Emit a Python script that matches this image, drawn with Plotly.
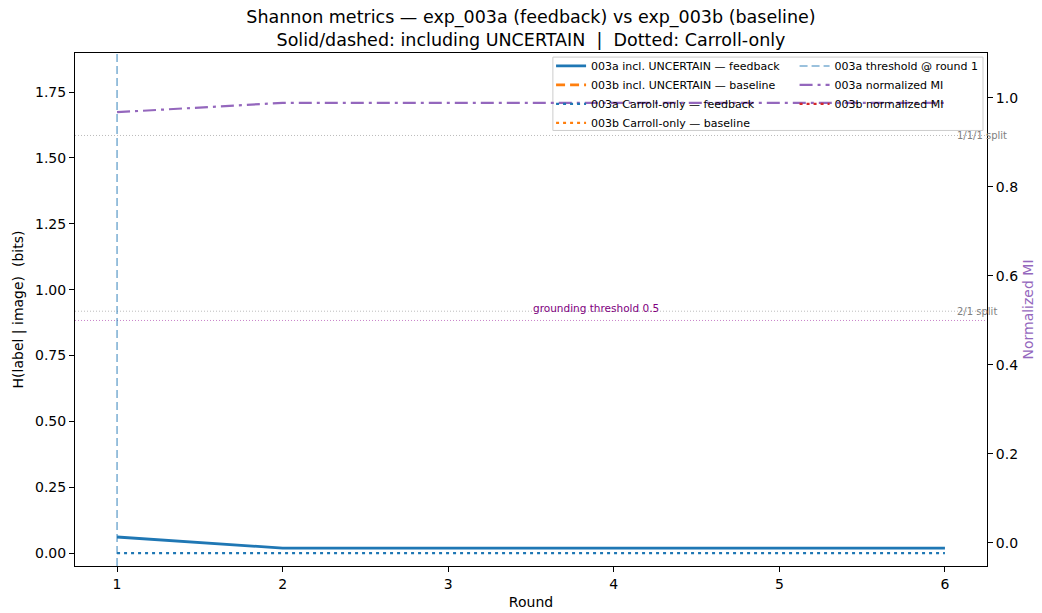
import plotly.graph_objects as go

rounds = [1, 2, 3, 4, 5, 6]
h_incl_003a = [0.061, 0.019, 0.019, 0.019, 0.019, 0.019]
h_incl_003b = [None, None, None, None, None, None]
h_carroll_003a = [0.0, 0.0, 0.0, 0.0, 0.0, 0.0]
h_carroll_003b = [None, None, None, None, None, None]
nmi_003a = [0.968, 0.989, 0.989, 0.989, 0.989, 0.989]
nmi_003b = [None, None, None, None, None, None]
threshold_round_003a = 1
split_levels = [1.585, 0.918]
split_labels = ["1/1/1 split", "2/1 split"]
grounding_threshold = 0.5

FONT = "DejaVu Sans"
BLUE = "#1f77b4"
ORANGE = "#ff7f0e"
PURPLE = "#9467bd"
RED = "#d62728"
DOT = "3px,4px"

fig = go.Figure()

# left axis series (legend 1)
fig.add_trace(go.Scatter(x=rounds, y=h_incl_003a, mode="lines", name="003a incl. UNCERTAIN — feedback",
                         line=dict(color=BLUE, width=2.8), legend="legend"))
fig.add_trace(go.Scatter(x=rounds, y=h_incl_003b, mode="lines", name="003b incl. UNCERTAIN — baseline",
                         line=dict(color=ORANGE, width=2.8, dash="9px,5px"), legend="legend"))
fig.add_trace(go.Scatter(x=rounds, y=h_carroll_003a, mode="lines", name="003a Carroll-only — feedback",
                         line=dict(color=BLUE, width=2.2, dash=DOT), legend="legend"))
fig.add_trace(go.Scatter(x=rounds, y=h_carroll_003b, mode="lines", name="003b Carroll-only — baseline",
                         line=dict(color=ORANGE, width=2.2, dash=DOT), legend="legend"))

# threshold vline as a trace (legend 2)
fig.add_trace(go.Scatter(x=[threshold_round_003a, threshold_round_003a], y=[-0.049, 1.898], mode="lines",
                         name="003a threshold @ round 1",
                         line=dict(color="rgba(31,119,180,0.6)", width=1.5, dash="8px,4px"), legend="legend2"))

# right axis series
fig.add_trace(go.Scatter(x=rounds, y=nmi_003a, mode="lines", name="003a normalized MI",
                         line=dict(color=PURPLE, width=2.2, dash="13px,5px,3px,5px"), yaxis="y2", legend="legend2"))
fig.add_trace(go.Scatter(x=rounds, y=nmi_003b, mode="lines", name="003b normalized MI",
                         line=dict(color=RED, width=2.2, dash=DOT), yaxis="y2", legend="legend2"))

shapes = []
annotations = []
for lvl, lab in zip(split_levels, split_labels):
    shapes.append(dict(type="line", xref="paper", yref="y", x0=0, x1=1, y0=lvl, y1=lvl,
                       line=dict(color="rgba(160,160,160,0.7)", width=1, dash="1px,2px"), layer="below"))
    annotations.append(dict(x=6.06, y=lvl, xref="x", yref="y", text=lab, showarrow=False,
                            xanchor="left", yanchor="middle",
                            font=dict(family=FONT, size=10, color="gray")))

shapes.append(dict(type="line", xref="paper", yref="y2", x0=0, x1=1, y0=grounding_threshold, y1=grounding_threshold,
                   line=dict(color="rgba(180,80,180,0.7)", width=1, dash="1px,2px"), layer="below"))
annotations.append(dict(x=3.5, y=grounding_threshold, xref="x", yref="y2", text="grounding threshold 0.5",
                        showarrow=False, xanchor="left", yanchor="bottom", yshift=4,
                        font=dict(family=FONT, size=10.5, color="purple")))

# legend frame
shapes.append(dict(type="rect", xref="paper", yref="paper", x0=0.524, x1=0.9956, y0=0.849, y1=0.992,
                   fillcolor="rgba(255,255,255,0.8)", line=dict(color="#cccccc", width=1), layer="below"))

axis_common = dict(ticks="outside", ticklen=5, tickwidth=1, tickcolor="black", showgrid=False, zeroline=False,
                   showline=True, linecolor="black", linewidth=1, automargin=False,
                   tickfont=dict(family=FONT, size=14, color="black"))

fig.update_layout(
    width=1042, height=613,
    margin=dict(l=75, r=55, t=53, b=47, autoexpand=False),
    plot_bgcolor="white", paper_bgcolor="white",
    font=dict(family=FONT, color="black"),
    title=dict(text="Shannon metrics — exp_003a (feedback) vs exp_003b (baseline)<br>Solid/dashed: including UNCERTAIN  |  Dotted: Carroll-only",
               x=0.5096, xanchor="center", y=0.962, yanchor="top", font=dict(family=FONT, size=17.5)),
    xaxis=dict(range=[0.746, 6.254], tickvals=rounds, mirror=True,
               title=dict(text="Round", font=dict(family=FONT, size=14), standoff=6), **axis_common),
    yaxis=dict(range=[-0.049, 1.898], tickvals=[0, 0.25, 0.5, 0.75, 1.0, 1.25, 1.5, 1.75], tickformat=".2f",
               title=dict(text="H(label | image)  (bits)", font=dict(family=FONT, size=14), standoff=8), **axis_common),
    yaxis2=dict(range=[-0.0517, 1.101], overlaying="y", side="right", tickvals=[0, 0.2, 0.4, 0.6, 0.8, 1.0],
                tickformat=".1f",
                title=dict(text="Normalized MI", font=dict(family=FONT, size=14, color=PURPLE), standoff=6),
                **axis_common),
    legend=dict(x=0.522, y=1.003, xanchor="left", yanchor="top", bgcolor="rgba(0,0,0,0)",
                font=dict(family=FONT, size=11), tracegroupgap=0),
    legend2=dict(x=0.789, y=1.003, xanchor="left", yanchor="top", bgcolor="rgba(0,0,0,0)",
                 font=dict(family=FONT, size=11), tracegroupgap=0),
    shapes=shapes,
    annotations=annotations,
    showlegend=True,
)

fig.write_html("out.html", config={"displayModeBar": False},
               post_script="document.body.style.margin='0px';document.body.style.padding='0px';")
